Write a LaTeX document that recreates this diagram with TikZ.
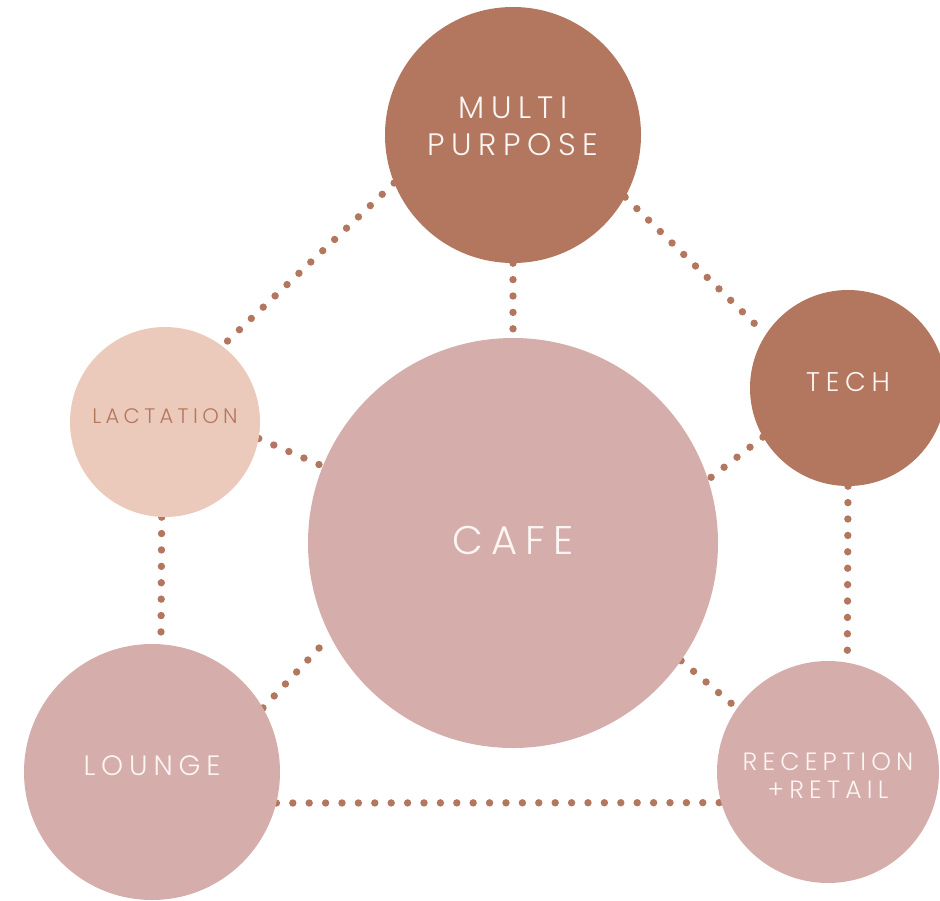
\documentclass[tikz,border=0pt]{standalone}
\usepackage{fontspec}
\newfontfamily\roomfont[LetterSpace=21]{Poppins Light}
\usetikzlibrary{backgrounds}
\definecolor{clay}{HTML}{B2775E}
\definecolor{rose}{HTML}{D5ADAB}
\definecolor{peach}{HTML}{ECCABB}
\definecolor{chalk}{HTML}{FBF6F3}

\begin{document}
\begin{tikzpicture}[x=1pt,y=-1pt,
    room/.style={circle,inner sep=0pt},
    roomtext/.style={align=center,text=chalk,inner sep=0pt},
    link/.style={clay,line width=7.4pt,line cap=round,dash pattern=on 0pt off 16.4pt}]
  \useasboundingbox (0,0) rectangle (940,900);

  \node[room,fill=clay,minimum size=256pt,
    label={[roomtext,yshift=9pt,font=\roomfont\fontsize{31}{37}\selectfont]center:MULTI\\PURPOSE}] (multi) at (513,135) {};
  \node[room,fill=clay,minimum size=196pt,
    label={[roomtext,yshift=6pt,font=\roomfont\fontsize{27}{32}\selectfont]center:TECH}] (tech) at (848,388) {};
  \node[room,fill=peach,minimum size=190pt,
    label={[roomtext,yshift=6pt,text=clay,font=\roomfont\fontsize{21}{25}\selectfont]center:LACTATION}] (lact) at (165,422) {};
  \node[room,fill=rose,minimum size=410pt,
    label={[roomtext,yshift=3pt,font=\roomfont\fontsize{40}{48}\selectfont]center:CAFE}] (cafe) at (513,543) {};
  \node[room,fill=rose,minimum size=256pt,
    label={[roomtext,yshift=6pt,font=\roomfont\fontsize{28}{34}\selectfont]center:LOUNGE}] (lounge) at (152,772) {};
  \node[room,fill=rose,minimum size=222pt,
    label={[roomtext,yshift=-4pt,font=\roomfont\fontsize{25}{28}\selectfont]center:RECEPTION\\+RETAIL}] (recep) at (828,772) {};

  \begin{scope}[on background layer]
    \draw[link] (multi.202) -- (lact.53);
    \draw[link] (multi.south) -- (cafe.north);
    \draw[link] (multi.-29) -- (tech.147);
    \draw[link] (lact.-10) -- (cafe.158);
    \draw[link] (tech.210) -- (cafe.18);
    \draw[link] (tech.-90) -- (recep.80);
    \draw[link] (cafe.-35) -- (recep.145);
    \draw[link] (lact.-92) -- (lounge.86);
    \draw[link] (lounge.30) -- (cafe.207);
    \draw[link] (lounge.-14) -- (recep.196);
  \end{scope}
\end{tikzpicture}
\end{document}
